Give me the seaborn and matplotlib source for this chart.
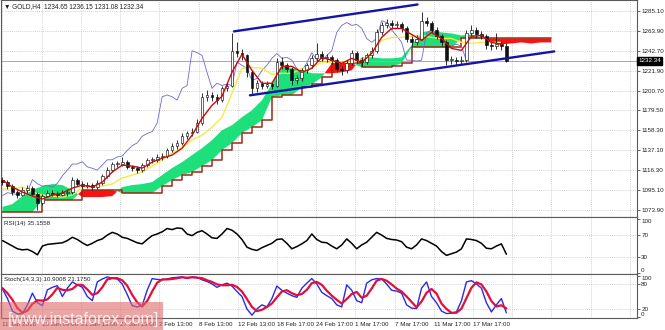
import numpy as np
import pandas as pd
import matplotlib
matplotlib.use("Agg")
import matplotlib.pyplot as plt
import matplotlib.transforms as mtrans
from matplotlib.patches import Rectangle
import seaborn as sns

# ---------------- data ----------------
first_open = 1106.0
closes = [1103.5,1099,1093,1090,1095,1097,1091,1081,1089,1092,
          1091,1090,1092,1093,1106,1101.5,1099,1100,1098,1102,
          1110,1116,1122.5,1122.5,1125,1119.5,1118,1116,1121.5,1127,
          1127,1130,1131,1137,1142,1145,1152,1155,1157,1166,
          1194,1196,1194,1190.5,1203,1206,1243,1241,1238,1220,
          1203,1208.5,1206,1207.5,1206,1231,1227.5,1224,1211.5,1213.5,
          1222,1227.5,1235,1240,1235,1236,1233,1224,1222,1230,
          1241,1233,1231,1238,1243,1262.5,1270,1273,1270,1271,
          1267,1256,1252,1256,1275,1273,1265,1259,1252,1233,
          1233,1232,1233,1262,1265,1261,1259,1249,1248,1250,
          1248,1232.34]
highs = [1109,1106,1101,1095,1098,1100,1099,1093,1091,1095,
         1095,1094,1095,1096,1109,1108,1104,1103,1102,1105,
         1112,1119,1125,1126,1130,1127,1122,1120,1124,1129,
         1130,1133,1134,1140,1145,1148,1155,1158,1161,1170,
         1198,1201,1199,1197,1206,1210,1262,1252,1245,1240,
         1222,1212,1211,1211,1210,1235,1236,1230,1226,1217,
         1225,1230,1238,1251,1243,1240,1239,1235,1227,1233,
         1244,1243,1236,1241,1247,1266,1274,1277,1276,1275,
         1274,1269,1259,1260,1284,1279,1275,1268,1261,1254,
         1237,1236,1237,1265,1270,1268,1264,1261,1252,1262,
         1253,1251]
lows = [1100,1096,1090,1086,1088,1092,1088,1074,1079,1087,
        1088,1087,1088,1089,1091,1099,1096,1097,1095,1096,
        1100,1108,1114,1119,1120,1117,1115,1113,1114,1119,
        1124,1125,1127,1129,1135,1139,1143,1149,1152,1155,
        1164,1190,1190,1186,1188,1200,1204,1236,1233,1215,
        1196,1199,1202,1203,1202,1204,1224,1220,1207,1208,
        1211,1219,1225,1232,1232,1231,1229,1220,1217,1219,
        1228,1230,1227,1229,1235,1241,1260,1267,1266,1267,
        1263,1252,1248,1249,1254,1269,1262,1255,1248,1228,
        1229,1228,1229,1231,1259,1257,1255,1245,1244,1245,
        1244,1231]

# Ichimoku lines (sampled every 2 candles of the arrays above)
tenkan = [1105.5,1098.0,1092.7,1088.4,1085.3,1089.5,1091.6,1096.9,1100.1,1098.0,
          1103.3,1114.0,1121.4,1120.3,1118.2,1124.5,1128.8,1132.0,1139.4,1153.2,
          1171.2,1185.0,1194.6,1220.1,1239.2,1222.2,1208.4,1208.4,1226.4,1226.4,
          1220.1,1224.3,1236.0,1232.8,1229.6,1234.9,1230.7,1240.2,1257.2,1266.7,
          1266.7,1260.4,1254.0,1262.5,1256.1,1245.5,1243.4,1258.3,1259.3,1251.9,
          1249.8]
kijun = [1095.9,1095.9,1098.0,1092.7,1089.5,1088.4,1087.4,1089.5,1096.9,1099.1,
         1099.1,1101.2,1107.6,1110.8,1114.0,1120.3,1126.7,1134.1,1139.4,1147.9,
         1153.2,1161.7,1172.3,1197.8,1224.3,1225.4,1224.3,1217.9,1219.0,1219.0,
         1224.3,1225.4,1230.7,1230.7,1230.7,1230.7,1232.8,1241.3,1254.0,1257.2,
         1257.2,1258.3,1259.3,1257.2,1256.1,1256.1,1251.9,1250.8,1251.9,1251.9,
         1251.9]
span_a = [1076.8,1080.0,1088.4,1094.8,1099.1,1101.2,1100.1,1094.8,1087.4,1087.4,
          1087.4,1088.4,1098.0,1100.1,1101.2,1103.3,1110.8,1118.2,1124.5,1132.0,
          1139.4,1147.9,1158.5,1163.8,1172.3,1179.7,1190.3,1207.3,1227.5,1224.3,
          1222.2,1219.0,1219.0,1219.0,1220.1,1222.2,1236.0,1236.0,1234.9,1234.9,
          1236.0,1248.7,1262.5,1264.6,1262.5,1261.4,1259.3,1260.4,1257.2,1251.9,
          1249.8,1250.8,1251.9,1250.8,1251.9,1251.9]
span_b = [1071.5,1071.5,1071.5,1071.5,1084.2,1084.2,1084.2,1084.2,1094.8,1094.8,
          1094.8,1094.8,1091.6,1091.6,1091.6,1091.6,1099.1,1105.5,1110.8,1114.0,
          1120.3,1126.7,1137.3,1144.7,1155.3,1161.7,1169.1,1193.5,1195.6,1195.6,
          1204.1,1207.3,1214.7,1229.6,1229.6,1229.6,1225.4,1225.4,1225.4,1226.4,
          1229.6,1246.6,1246.6,1246.6,1246.6,1246.6,1256.1,1256.1,1256.1,1256.1,
          1256.1,1256.1,1256.1,1256.1,1256.1,1256.1]
chikou_shift = 8

rsi = [60,55,50,45,43,44,40,34,50,53,
       54,55,56,60,66,62,56,51,55,60,
       63,70,75,72,66,64,60,56,54,62,
       69,72,76,82,80,83,82,72,69,75,
       78,72,65,64,72,82,79,72,62,48,
       44,42,47,51,55,62,63,55,45,49,
       54,60,72,62,57,56,50,45,52,63,
       55,45,52,57,66,75,70,64,62,61,
       58,48,45,52,63,60,55,50,40,33,
       36,39,45,63,62,60,55,46,45,50,
       54,35.16]
stoch_main = [68,45,15,8,9,30,58,35,28,66,
              72,76,50,70,85,78,72,50,40,85,
              92,97,94,92,80,55,28,25,28,65,
              93,91,90,92,95,96,97,93,97,96,
              90,86,80,72,78,82,75,62,50,20,
              5,20,30,25,45,75,65,58,52,48,
              70,82,93,80,60,52,45,30,25,78,
              65,40,35,82,90,93,92,80,65,63,
              58,30,22,21,70,85,50,35,15,9,
              10,13,40,85,88,80,70,35,13,30,
              45,10.9]
stoch_signal = [70,58,42,22,11,16,32,41,40,43,
                55,71,66,65,68,78,78,67,54,58,
                72,91,94,94,89,76,54,36,26,39,
                62,83,91,91,92,94,96,95,96,95,
                94,89,85,79,77,77,78,73,62,44,
                25,15,18,25,33,48,62,65,58,53,
                56,66,82,85,78,64,52,42,33,44,
                56,61,47,52,69,88,92,88,79,69,
                62,50,37,24,38,59,68,57,33,20,
                11,11,21,46,71,84,79,62,39,26,
                29,21.2]

channel_upper = [(46.4, 1263.6), (83.2, 1292.2)]
channel_lower = [(49.6, 1195.6), (110.6, 1242.3)]

price_ticks = [1285.10, 1263.90, 1242.70, 1221.90, 1200.70, 1179.50,
               1158.30, 1137.10, 1116.30, 1095.10, 1073.90]
date_labels = ["11 Jan 2016", "15 Jan 09:00", "21 Jan 13:00", "27 Jan 13:00",
               "2 Feb 13:00", "8 Feb 13:00", "12 Feb 13:00", "18 Feb 17:00",
               "24 Feb 17:00", "1 Mar 17:00", "7 Mar 17:00", "11 Mar 17:00",
               "17 Mar 17:00"]
header = "\u25BC GOLD,H4  1234.65 1236.15 1231.08 1232.34"
rsi_title = "RSI(14) 35.1558"
stoch_title = "Stoch(14,3,3) 10.9008 21.1750"
last_price = 1232.34

# ---------------- frames ----------------
n = len(closes)
opens = [first_open] + closes[:-1]
df = pd.DataFrame({"x": np.arange(n), "open": opens, "close": closes,
                   "high": highs, "low": lows, "rsi": rsi,
                   "k": stoch_main, "d": stoch_signal})
ich = pd.DataFrame({"x": np.arange(len(tenkan)) * 2, "tenkan": tenkan, "kijun": kijun})
cloud = pd.DataFrame({"x": np.arange(len(span_a)) * 2, "a": span_a, "b": span_b})
chik = pd.DataFrame({"x": df["x"].values[chikou_shift:] - chikou_shift,
                     "c": df["close"].values[chikou_shift:]})

# ---------------- style ----------------
sns.set_style("white")
plt.rcParams["font.family"] = ["Liberation Sans", "DejaVu Sans"]
FS = 4.5
GRID = dict(color="#c4c4c4", linestyle=(0, (1.5, 1.5)), linewidth=0.5)
SPINE = "#5a5a5a"

fig = plt.figure(figsize=(6.65, 3.3), dpi=100)
L, W = 0.0015, 0.9565
ax = fig.add_axes([L, 0.3424, W, 0.6561])
ax_r = fig.add_axes([L, 0.1697, W, 0.1727], sharex=ax)
ax_s = fig.add_axes([L, 0.0364, W, 0.1333], sharex=ax)

xmin, xmax = -0.3, 127.2
grid_x = [k * 7.86 for k in range(17)]

for a in (ax, ax_r, ax_s):
    a.set_xlim(xmin, xmax)
    for s in a.spines.values():
        s.set_color(SPINE)
        s.set_linewidth(0.8)
    a.yaxis.tick_right()
    a.tick_params(axis="y", labelsize=FS, length=1.8, pad=1.2, colors="#222222", width=0.5)
    a.set_xticks(grid_x)
    for gx in grid_x:
        a.axvline(gx, zorder=0, **GRID)

# ---------------- main panel ----------------
ax.set_ylim(1066.15, 1296.46)
ax.set_yticks(price_ticks)
ax.set_yticklabels([f"{v:.2f}" for v in price_ticks])
for p in price_ticks:
    ax.axhline(p, zorder=0, **GRID)

cx, ca, cb = cloud["x"].values, cloud["a"].values, cloud["b"].values
ax.fill_between(cx, ca, cb, where=ca >= cb, interpolate=True,
                color="#1EE07A", linewidth=0, zorder=1)
ax.fill_between(cx, ca, cb, where=ca < cb, interpolate=True,
                color="#FF1010", linewidth=0, zorder=1)
sns.lineplot(data=cloud, x="x", y="b", ax=ax, color="#9B2A12", lw=1.1,
             drawstyle="steps-post", legend=False, zorder=2)

ax.axhline(last_price, color="#a8a8a8", lw=0.7, zorder=1.5)

sns.lineplot(data=chik, x="x", y="c", ax=ax, color="#6A6AD2", lw=0.6,
             legend=False, zorder=3)
sns.lineplot(data=ich, x="x", y="kijun", ax=ax, color="#F3EC45", lw=1.0,
             legend=False, zorder=4)

# candles
up = df["close"] >= df["open"]
ax.vlines(df["x"], df["low"], df["high"], color="#111111", lw=0.6, zorder=5)
body = (df["close"] - df["open"]).abs().clip(lower=0.8)
bottom = df[["open", "close"]].min(axis=1)
ax.bar(df["x"][up], body[up], bottom=bottom[up], width=0.55, color="white",
       edgecolor="#111111", linewidth=0.45, zorder=6)
ax.bar(df["x"][~up], body[~up], bottom=bottom[~up], width=0.55, color="#111111",
       edgecolor="#111111", linewidth=0.45, zorder=6)

sns.lineplot(data=ich, x="x", y="tenkan", ax=ax, color="#CC0A0A", lw=1.0,
             legend=False, zorder=7)

for seg in (channel_upper, channel_lower):
    seg_df = pd.DataFrame({"x": [seg[0][0], seg[1][0]], "y": [seg[0][1], seg[1][1]]})
    sns.lineplot(data=seg_df, x="x", y="y", ax=ax, color="#1515A5", lw=1.7,
                 legend=False, zorder=8)

ax.set_xlabel(""); ax.set_ylabel("")
ax.tick_params(axis="x", labelbottom=False, length=0)
ax.text(0.004, 0.988, header, transform=ax.transAxes, fontsize=FS + 0.2,
        va="top", ha="left", color="#222222")
bt = mtrans.blended_transform_factory(ax.transAxes, ax.transData)
ax.text(1.002, last_price, f"{last_price:.2f}", transform=bt, fontsize=FS,
        va="center", ha="left", color="white",
        bbox=dict(boxstyle="square,pad=0.2", fc="black", ec="black"))

# ---------------- RSI panel ----------------
ax_r.set_ylim(-1, 103)
for lv in (70, 30):
    ax_r.axhline(lv, zorder=0, **GRID)
sns.lineplot(data=df, x="x", y="rsi", ax=ax_r, color="black", lw=1.1, legend=False)
ax_r.set_yticks([100, 70, 30, 0])
ax_r.set_yticklabels(["100", "70", "30", "0"])
ax_r.tick_params(axis="x", labelbottom=False, length=0)
ax_r.set_xlabel(""); ax_r.set_ylabel("")
ax_r.text(0.004, 0.93, rsi_title, transform=ax_r.transAxes, fontsize=FS,
          va="top", ha="left", color="#222222")

# ---------------- Stochastic panel ----------------
ax_s.set_ylim(-1.6, 104)
for lv in (80, 20):
    ax_s.axhline(lv, zorder=0, **GRID)
sns.lineplot(data=df, x="x", y="k", ax=ax_s, color="#2A2AE8", lw=1.0, legend=False)
sns.lineplot(data=df, x="x", y="d", ax=ax_s, color="#E0103A", lw=1.6, legend=False)
ax_s.set_yticks([100, 80, 20, 0])
ax_s.set_yticklabels(["100", "80", "20", "0"])
ax_s.set_xlabel(""); ax_s.set_ylabel("")
ax_s.text(0.004, 0.93, stoch_title, transform=ax_s.transAxes, fontsize=FS,
          va="top", ha="left", color="#222222")
ax_s.set_xticklabels(date_labels + [""] * (len(grid_x) - len(date_labels)))
ax_s.tick_params(axis="x", labelsize=FS, length=2, pad=1.0, colors="#222222", width=0.5)
for lab in ax_s.get_xticklabels():
    lab.set_ha("left")

# keep the 100 / 0 labels inside their panels
for a in (ax_r, ax_s):
    for lab in a.get_yticklabels():
        if lab.get_text() == "100":
            lab.set_va("top")
        elif lab.get_text() == "0":
            lab.set_va("bottom")

# ---------------- watermark ----------------
fig.patches.append(Rectangle((0, 0), 0.245, 0.086, transform=fig.transFigure,
                             facecolor="#E06A6A", alpha=0.6, edgecolor="none",
                             zorder=20))
fig.text(0.012, 0.008, "[www.instaforex.com]", fontsize=11.5, color="white",
         alpha=0.85, ha="left", va="bottom", zorder=21)

fig.savefig("out.png", dpi=100)
